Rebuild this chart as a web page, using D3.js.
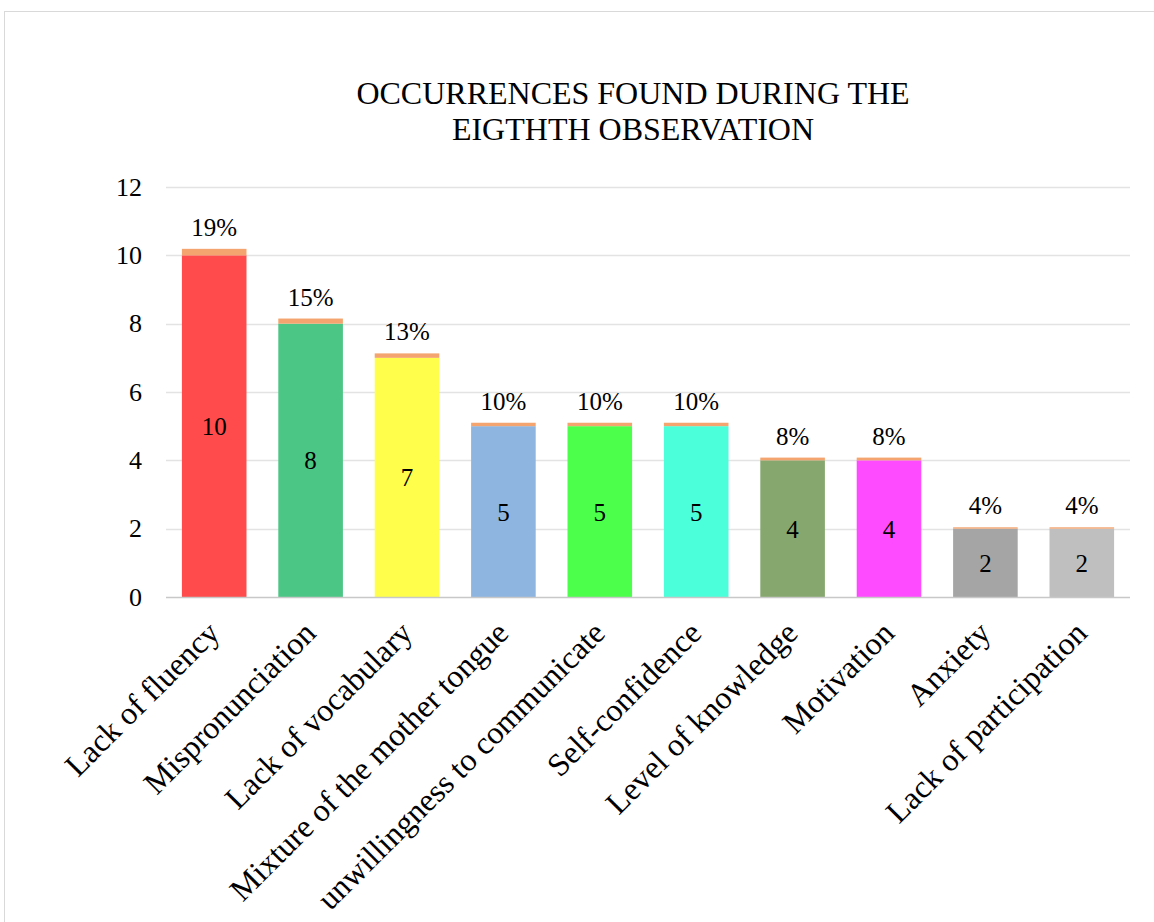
<!DOCTYPE html>
<html>
<head>
<meta charset="utf-8">
<script src="https://cdn.jsdelivr.net/npm/d3@7"></script>
<style>
  html, body { margin: 0; padding: 0; background: #fff; }
  svg { display: block; }
</style>
</head>
<body>
<svg id="chart" width="1154" height="922"></svg>
<script>
// Occurrences per category and their share of the total
const categories = [
  "Lack of fluency", "Mispronunciation", "Lack of vocabulary",
  "Mixture of the mother tongue", "unwillingness to communicate",
  "Self-confidence", "Level of knowledge", "Motivation", "Anxiety",
  "Lack of participation"
];
const counts = [10, 8, 7, 5, 5, 5, 4, 4, 2, 2];
const percents = [19, 15, 13, 10, 10, 10, 8, 8, 4, 4];
const barColors = [
  "#ff4b4b", "#4bc684", "#ffff4b", "#8db5e0", "#4bff4b",
  "#4bffdb", "#86a86e", "#ff4bff", "#a5a5a5", "#bfbfbf"
];
const shareColor = "#f4a46e";
const yTicks = [0, 2, 4, 6, 8, 10, 12];
const titleLines = ["OCCURRENCES FOUND DURING THE", "EIGTHTH OBSERVATION"];

const FONT = "Liberation Serif, Tinos, DejaVu Serif, serif";
const svg = d3.select("#chart").style("font-family", FONT);
const W = 1154, H = 922;
const m = { left: 166, right: 1130, top: 187, bottom: 597 };

// chart frame
svg.append("rect")
  .attr("x", 4.5).attr("y", 11.5)
  .attr("width", W + 20).attr("height", H + 20)
  .attr("fill", "#fff").attr("stroke", "#d9d9d9").attr("stroke-width", 1);

const x = d3.scaleBand().domain(categories).range([m.left, m.right]).paddingInner(0.33).paddingOuter(0.165);
const y = d3.scaleLinear().domain([0, 12]).range([m.bottom, m.top]);

// title
svg.append("text")
  .attr("text-anchor", "middle")
  .style("font-family", FONT)
  .attr("font-size", 32).attr("fill", "#000")
  .selectAll("tspan").data(titleLines).join("tspan")
  .attr("x", 633).attr("y", (d, i) => 104 + i * 36)
  .text(d => d);

// gridlines
svg.append("g").selectAll("line").data(yTicks.filter(t => t > 0)).join("line")
  .attr("x1", m.left).attr("x2", m.right)
  .attr("y1", d => Math.round(y(d)) + 0.5).attr("y2", d => Math.round(y(d)) + 0.5)
  .attr("stroke", "#e3e3e3").attr("stroke-width", 1.3);

// y axis labels
const yAxis = d3.axisLeft(y).tickValues(yTicks).tickSize(0).tickPadding(24);
const gy = svg.append("g").attr("transform", `translate(${m.left},0)`).call(yAxis)
  .attr("font-family", null).attr("font-size", 26);
gy.select(".domain").remove();
gy.selectAll("text").attr("fill", "#000").style("font-family", FONT);

const rows = categories.map((c, i) => ({ c, n: counts[i], p: percents[i], color: barColors[i] }));

// count segments
svg.append("g").selectAll("rect").data(rows).join("rect")
  .attr("x", d => x(d.c)).attr("width", x.bandwidth())
  .attr("y", d => y(d.n)).attr("height", d => y(0) - y(d.n))
  .attr("fill", d => d.color);

// share segments stacked on top
svg.append("g").selectAll("rect").data(rows).join("rect")
  .attr("x", d => x(d.c)).attr("width", x.bandwidth())
  .attr("y", d => y(d.n + d.p / 100)).attr("height", d => y(d.n) - y(d.n + d.p / 100))
  .attr("fill", shareColor);

// baseline axis
svg.append("line")
  .attr("x1", m.left).attr("x2", m.right)
  .attr("y1", y(0) + 0.5).attr("y2", y(0) + 0.5)
  .attr("stroke", "#c8c8c8").attr("stroke-width", 1.5);

// count labels
svg.append("g").selectAll("text").data(rows).join("text")
  .style("font-family", FONT)
  .attr("x", d => x(d.c) + x.bandwidth() / 2)
  .attr("y", d => y(d.n / 2) + 9)
  .attr("text-anchor", "middle").attr("font-size", 25).attr("fill", "#000")
  .text(d => d.n);

// percent labels
svg.append("g").selectAll("text").data(rows).join("text")
  .style("font-family", FONT)
  .attr("x", d => x(d.c) + x.bandwidth() / 2)
  .attr("y", d => y(d.n + d.p / 100) - 13)
  .attr("text-anchor", "middle").attr("font-size", 25).attr("fill", "#000")
  .text(d => d.p + "%");

// category labels
const xAxis = d3.axisBottom(x).tickSize(0).tickPadding(0);
const gx = svg.append("g").attr("transform", `translate(0,${m.bottom})`).call(xAxis)
  .attr("font-family", null).attr("font-size", 32);
gx.select(".domain").remove();
gx.selectAll("text")
  .style("font-family", FONT)
  .attr("fill", "#000")
  .attr("text-anchor", "end")
  .attr("dy", null).attr("y", null)
  .attr("transform", "translate(7,38) rotate(-45)");
</script>
</body>
</html>
